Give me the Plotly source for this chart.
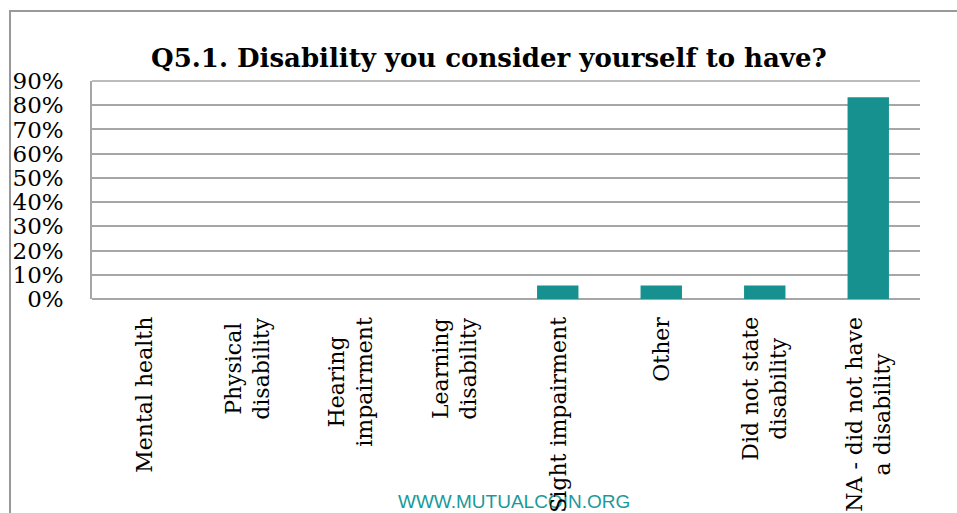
import plotly.graph_objects as go

# Survey responses: share of respondents per disability category
categories = [
    "Mental health",
    "Physical<br>disability",
    "Hearing<br>impairment",
    "Learning<br>disability",
    "Sight impairment",
    "Other",
    "Did not state<br>disability",
    "NA - did not have<br>a disability",
]
shares = [0.0, 0.0, 0.0, 0.0, 1 / 18, 1 / 18, 1 / 18, 15 / 18]
y_ticks = [i / 10 for i in range(10)]
y_tick_labels = [f"{i * 10}%" for i in range(10)]

title_text = "Q5.1. Disability you consider yourself to have?"
watermark = "WWW.MUTUALCOIN.ORG"

W, H = 957, 513
L, R, T, B = 92, 957 - 920, 81, 513 - 299
plot_w = W - L - R
plot_h = H - T - B

serif = "DejaVu Serif, Liberation Serif, serif"
teal = "#169190"
grid = "#a6a6a6"

fig = go.Figure(
    go.Bar(
        x=list(range(len(categories))),
        y=shares,
        marker=dict(color=teal, line=dict(width=0)),
        width=0.4,
        hoverinfo="skip",
    )
)


def px_x(px):
    return (px - L) / plot_w


def px_y(py):
    return (H - B - py) / plot_h


annotations = [
    # site watermark along the bottom edge
    dict(
        text=watermark,
        xref="paper", yref="paper",
        x=px_x(514), y=px_y(502),
        xanchor="center", yanchor="middle",
        showarrow=False,
        font=dict(family="Liberation Sans, Arial, sans-serif", size=19, color="#1a9a9a"),
    ),
    dict(
        text=f"<b>{title_text}</b>",
        xref="paper", yref="paper",
        x=px_x(489), y=px_y(58),
        xanchor="center", yanchor="middle",
        showarrow=False,
        font=dict(family=serif, size=26, color="#000000"),
    ),
]

# rotated category labels, centred line by line under each bar
for i, cat in enumerate(categories):
    annotations.append(
        dict(
            text=cat,
            xref="x", yref="paper",
            x=i, y=0,
            xanchor="center", yanchor="top",
            yshift=-16,
            textangle=-90,
            align="center",
            showarrow=False,
            font=dict(family=serif, size=22, color="#000000"),
        )
    )

fig.update_layout(
    width=W,
    height=H,
    margin=dict(l=L, r=R, t=T, b=B, pad=0),
    paper_bgcolor="white",
    plot_bgcolor="white",
    showlegend=False,
    bargap=0.6,
    xaxis=dict(
        range=[-0.5, len(categories) - 0.5],
        showticklabels=False,
        showgrid=False,
        zeroline=False,
        showline=False,
        ticks="",
    ),
    yaxis=dict(
        range=[0, 0.9],
        tickvals=y_ticks,
        ticktext=y_tick_labels,
        showgrid=True,
        gridcolor=grid,
        gridwidth=1.5,
        zeroline=True,
        zerolinecolor=grid,
        zerolinewidth=1.5,
        showline=True,
        linecolor=grid,
        linewidth=1.5,
        mirror=False,
        ticks="",
        ticklabelstandoff=22,
        tickfont=dict(family=serif, size=23, color="#000000"),
    ),
    annotations=annotations,
    shapes=[
        # top grid line closing the plot area
        dict(type="line", xref="paper", yref="paper", x0=0, x1=1, y0=1, y1=1,
             line=dict(color=grid, width=1.5)),
        # outer chart frame
        dict(type="rect", xref="paper", yref="paper",
             x0=px_x(10), x1=px_x(980), y0=px_y(11), y1=px_y(540),
             line=dict(color="#999999", width=2), fillcolor="rgba(0,0,0,0)",
             layer="below"),
    ],
)

fig.write_html("out.html")
